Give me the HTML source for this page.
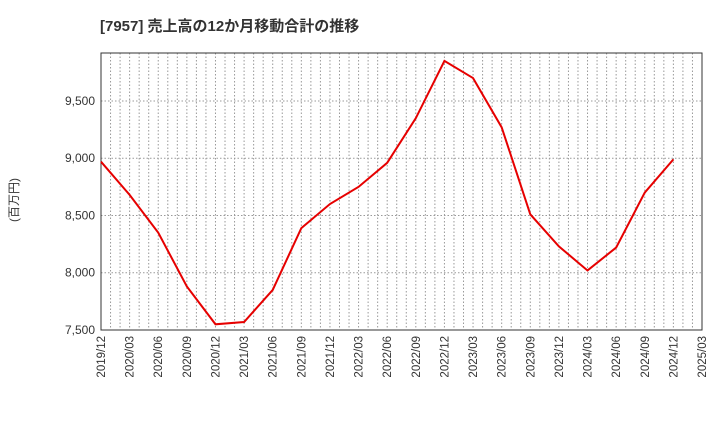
<!DOCTYPE html>
<html><head><meta charset="utf-8"><style>
body{margin:0;background:#fff;font-family:"Liberation Sans","Noto Sans CJK JP",sans-serif}
svg{display:block}
</style></head><body>
<svg width="720" height="440" xmlns="http://www.w3.org/2000/svg">
<text x="100" y="31" font-size="15" font-weight="bold" fill="#333" font-family="Liberation Sans, Noto Sans CJK JP, sans-serif">[7957]  売上高の12か月移動合計の推移</text>
<text transform="translate(18,200) rotate(-90)" font-size="12" fill="#333" text-anchor="middle" font-family="Liberation Sans, Noto Sans CJK JP, sans-serif">(百万円)</text>
<g id="grid"></g><g id="axes"></g>
<polyline id="line" fill="none" stroke="#e60000" stroke-width="2"/>
</svg>
<script>
const categories=["2019/12","2020/03","2020/06","2020/09","2020/12","2021/03","2021/06","2021/09","2021/12","2022/03","2022/06","2022/09","2022/12","2023/03","2023/06","2023/09","2023/12","2024/03","2024/06","2024/09","2024/12","2025/03"];
const values=[8970,8680,8350,7880,7550,7570,7850,8390,8600,8750,8960,9350,9850,9700,9270,8510,8230,8020,8220,8700,8990];
const yTicks=[7500,8000,8500,9000,9500];
const yTickLabels=["7,500","8,000","8,500","9,000","9,500"];
const L=101,R=702,T=53,B=330,yMin=7500,yMax=9919;
const x=i=>L+(R-L)*i/(categories.length-1);
const y=v=>B-(B-T)*(v-yMin)/(yMax-yMin);
const ns="http://www.w3.org/2000/svg";
const g=document.getElementById('grid'),a=document.getElementById('axes');
function mk(t,at,p){const e=document.createElementNS(ns,t);for(const k in at)e.setAttribute(k,at[k]);p.appendChild(e);return e;}
const nm=(categories.length-1)*3;
for(let m=1;m<nm;m++){const xx=L+(R-L)*m/nm;
const e=mk('line',{x1:xx,x2:xx,y1:T,y2:B,stroke:'#999','stroke-dasharray':'1.5,2','stroke-width':1},g);

}
yTicks.forEach((v,i)=>{const yy=y(v);
if(i>0){const e=mk('line',{x1:L,x2:R,y1:yy,y2:yy,stroke:'#999','stroke-dasharray':'1.5,2'},g);

}
const t=mk('text',{x:L-6,y:yy+4,'text-anchor':'end','font-size':12,fill:'#333'},a);t.textContent=yTickLabels[i];

});
categories.forEach((c,i)=>{const xx=x(i);
const t=mk('text',{transform:`translate(${xx+4},${B+6}) rotate(-90)`,'text-anchor':'end','font-size':11.5,fill:'#333'},a);t.textContent=c;

});
const fr=mk('rect',{x:L,y:T,width:R-L,height:B-T,fill:'none',stroke:'#333','stroke-width':1},a);


document.getElementById('line').setAttribute('points',values.map((v,i)=>x(i)+','+y(v)).join(' '));
</script>
</body></html>
